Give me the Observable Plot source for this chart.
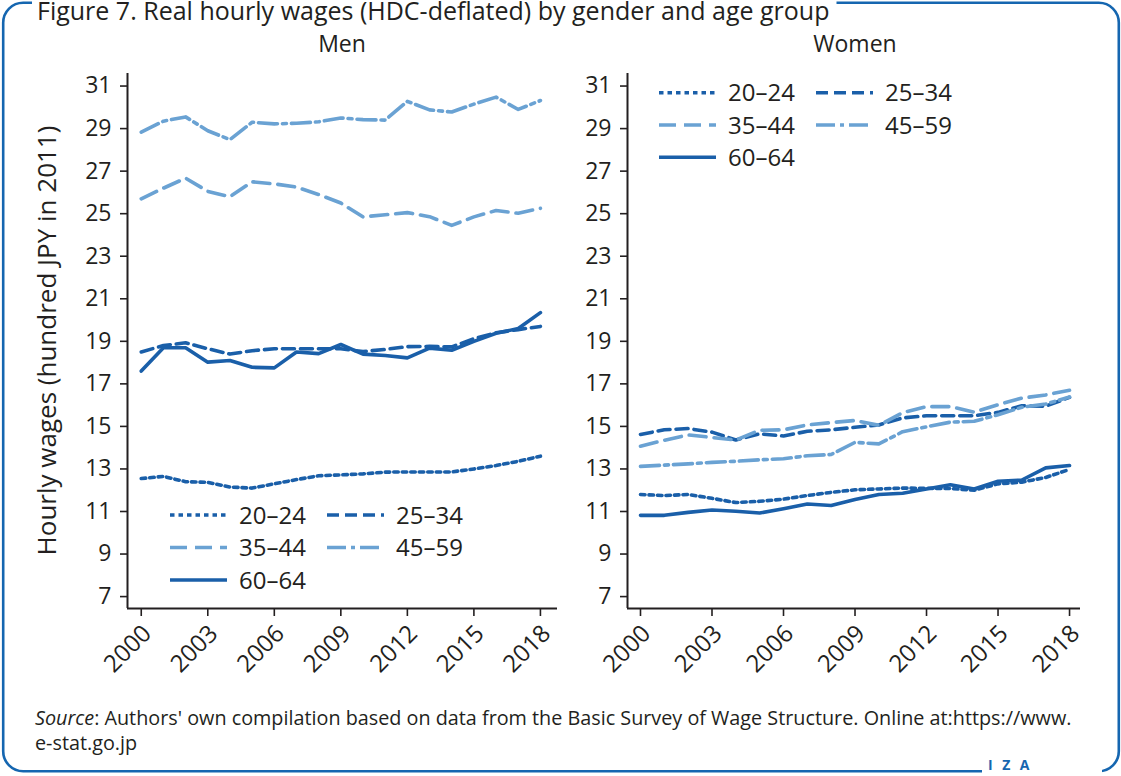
<!DOCTYPE html>
<html>
<head>
<meta charset="utf-8">
<script src="https://cdn.jsdelivr.net/npm/d3@7"></script>
<script src="https://cdn.jsdelivr.net/npm/@observablehq/plot@0.6"></script>
<style>
  body { margin: 0; background: #fff; }
  #root { position: relative; width: 1121px; height: 776px; overflow: hidden; background: #fff;
          font-family: "Open Sans", "Liberation Sans", Arial, sans-serif; color: #231f20; }
  .panel { position: absolute; top: 0; }
  #overlay { position: absolute; left: 0; top: 0; pointer-events: none; }
</style>
</head>
<body>
<div id="root">
  <div id="men" class="panel" style="left:0px"></div>
  <div id="women" class="panel" style="left:500px"></div>
  <svg id="overlay" width="1121" height="776"></svg>
</div>
<script>
// ---------------- data ----------------
const years = [2000, 2001, 2002, 2003, 2004, 2005, 2006, 2007, 2008, 2009,
               2010, 2011, 2012, 2013, 2014, 2015, 2016, 2017, 2018];
const ageGroups = ["20–24", "25–34", "35–44", "45–59", "60–64"];

const men20_24 = [12.55, 12.65, 12.40, 12.37, 12.15, 12.10, 12.30, 12.50, 12.68, 12.72, 12.77, 12.85, 12.86, 12.86, 12.86, 13.00, 13.16, 13.36, 13.60];
const men25_34 = [18.50, 18.80, 18.93, 18.65, 18.40, 18.56, 18.65, 18.65, 18.65, 18.65, 18.52, 18.62, 18.75, 18.76, 18.74, 19.12, 19.40, 19.55, 19.70];
const men35_44 = [25.70, 26.20, 26.67, 26.05, 25.80, 26.50, 26.40, 26.25, 25.90, 25.50, 24.85, 24.95, 25.05, 24.86, 24.45, 24.85, 25.15, 25.02, 25.25];
const men45_59 = [28.83, 29.35, 29.55, 28.90, 28.48, 29.30, 29.22, 29.25, 29.32, 29.50, 29.42, 29.40, 30.28, 29.88, 29.78, 30.15, 30.48, 29.90, 30.32];
const men60_64 = [17.60, 18.70, 18.70, 18.02, 18.10, 17.78, 17.75, 18.50, 18.42, 18.85, 18.40, 18.33, 18.22, 18.68, 18.58, 19.00, 19.38, 19.60, 20.35];

const women20_24 = [11.80, 11.75, 11.80, 11.62, 11.42, 11.48, 11.58, 11.75, 11.90, 12.02, 12.06, 12.10, 12.09, 12.08, 12.00, 12.30, 12.38, 12.60, 12.98];
const women25_34 = [14.62, 14.84, 14.90, 14.73, 14.36, 14.65, 14.55, 14.77, 14.84, 14.96, 15.07, 15.40, 15.50, 15.50, 15.50, 15.66, 15.97, 15.95, 16.37];
const women35_44 = [14.07, 14.35, 14.60, 14.48, 14.36, 14.82, 14.84, 15.07, 15.18, 15.28, 15.05, 15.65, 15.93, 15.93, 15.67, 16.02, 16.33, 16.48, 16.70];
const women45_59 = [13.12, 13.18, 13.24, 13.31, 13.36, 13.43, 13.48, 13.62, 13.68, 14.25, 14.18, 14.75, 14.98, 15.20, 15.24, 15.55, 15.90, 16.05, 16.38];
const women60_64 = [10.82, 10.82, 10.96, 11.07, 11.01, 10.93, 11.13, 11.35, 11.28, 11.56, 11.80, 11.86, 12.06, 12.26, 12.06, 12.42, 12.48, 13.05, 13.16];

const xTicks = [2000, 2003, 2006, 2009, 2012, 2015, 2018];
const yTicks = [7, 9, 11, 13, 15, 17, 19, 21, 23, 25, 27, 29, 31];

const titleText = "Figure 7. Real hourly wages (HDC-deflated) by gender and age group";
const panelTitles = ["Men", "Women"];
const yLabel = "Hourly wages (hundred JPY in 2011)";
const sourceLine1 = ": Authors' own compilation based on data from the Basic Survey of Wage Structure. Online at:https://www.";
const sourceLine2 = "e-stat.go.jp";

// ---------------- styles ----------------
const dark = "#1a5fa9";
const light = "#6aa2d3";
const ink = "#231f20";
const frameBlue = "#1566b0";
const seriesColor = [dark, dark, light, light, dark];
const seriesDash = ["4.5,4", "12,6", "17,8", "19,5,4,5", null];
const FONT = '"Open Sans", "Liberation Sans", Arial, sans-serif';

function toRows(seriesList) {
  const rows = [];
  seriesList.forEach((vals, i) => {
    vals.forEach((v, j) => rows.push({ year: years[j], value: v, age: ageGroups[i] }));
  });
  return rows;
}

const yDomain = [6.44, 31.59];

function panel(seriesList, xDomain, width) {
  const rows = toRows(seriesList);
  return Plot.plot({
    width: width,
    height: 710,
    marginLeft: 127,
    marginRight: 10,
    marginTop: 73,
    marginBottom: 102,
    style: { background: "transparent", overflow: "visible", fontFamily: FONT, fontSize: "23px", color: ink },
    x: { domain: xDomain, label: null },
    y: { domain: yDomain, label: null },
    marks: [
      Plot.ruleX([xDomain[0]], { stroke: ink, strokeWidth: 2 }),
      Plot.ruleY([yDomain[0]], { stroke: ink, strokeWidth: 2 }),
      Plot.axisY({ ticks: yTicks, tickSize: 7, tickPadding: 9, strokeWidth: 1.6, label: null, fontSize: 23 }),
      // tick marks
      Plot.axisX({ ticks: xTicks, tickFormat: () => "", tickSize: 8, strokeWidth: 1.6, label: null }),
      // rotated tick labels
      Plot.axisX({ ticks: xTicks, tickFormat: d => String(d), tickRotate: -45, tickSize: 0, tickPadding: 21,
                   dx: 6, label: null, fontSize: 24 }),
      ...ageGroups.map((a, i) =>
        Plot.line(rows.filter(d => d.age === a), {
          x: "year", y: "value", stroke: seriesColor[i], strokeWidth: 3.6,
          strokeDasharray: seriesDash[i], strokeLinejoin: "round"
        }))
    ]
  });
}

document.getElementById("men").appendChild(
  panel([men20_24, men25_34, men35_44, men45_59, men60_64], [1999.38, 2018.77], 567));
document.getElementById("women").appendChild(
  panel([women20_24, women25_34, women35_44, women45_59, women60_64], [1999.455, 2018.46], 590));

// ---------------- overlay: frame, titles, legends, caption ----------------
const svg = d3.select("#overlay");
svg.append("rect").attr("x", 3.2).attr("y", 2.8).attr("width", 1115.6).attr("height", 768.4)
  .attr("rx", 20).attr("fill", "none").attr("stroke", frameBlue).attr("stroke-width", 2.6);

const title = svg.append("text").attr("x", 37).attr("y", 20).attr("font-family", FONT)
  .attr("font-size", 25).attr("fill", ink).text(titleText);
const tw = title.node().getComputedTextLength();
svg.insert("rect", "text").attr("x", 32).attr("y", 0).attr("width", tw + 12).attr("height", 8).attr("fill", "#fff");

// IZA mark on the bottom border
svg.append("rect").attr("x", 982).attr("y", 765).attr("width", 120).attr("height", 10).attr("fill", "#fff");
svg.append("text").attr("x", 988).attr("y", 770).attr("font-family", FONT).attr("font-size", 14)
  .attr("font-weight", "bold").attr("letter-spacing", 9.5).attr("fill", frameBlue).text("IZA");

// panel titles
[[342, panelTitles[0]], [855, panelTitles[1]]].forEach(([x, t]) => {
  svg.append("text").attr("x", x).attr("y", 52).attr("text-anchor", "middle").attr("font-family", FONT)
    .attr("font-size", 23).attr("fill", ink).text(t);
});

// y label
svg.append("text").attr("transform", "translate(56,340.5) rotate(-90)").attr("text-anchor", "middle")
  .attr("font-family", FONT).attr("font-size", 26).attr("fill", ink).text(yLabel);

// legends
function legend(x0, colText0, x1, colText1, rowsY) {
  ageGroups.forEach((a, i) => {
    const col = i % 2, row = Math.floor(i / 2);
    const lx = col === 0 ? x0 : x1;
    const tx = col === 0 ? colText0 : colText1;
    const y = rowsY[row];
    svg.append("line").attr("x1", lx).attr("x2", lx + 57).attr("y1", y).attr("y2", y)
      .attr("stroke", seriesColor[i]).attr("stroke-width", 3.6)
      .attr("stroke-dasharray", seriesDash[i]);
    svg.append("text").attr("x", tx).attr("y", y + 8.5).attr("font-family", FONT)
      .attr("font-size", 24).attr("fill", ink).text(a);
  });
}
legend(170, 239, 327, 396, [515, 547.5, 580]);
legend(659, 728, 816, 885, [92.7, 125, 157.3]);

// caption
const cap = svg.append("text").attr("x", 35).attr("y", 725).attr("font-family", FONT)
  .attr("font-size", 19.8).attr("fill", ink);
cap.append("tspan").attr("font-style", "italic").text("Source");
cap.append("tspan").text(sourceLine1);
svg.append("text").attr("x", 35).attr("y", 750).attr("font-family", FONT)
  .attr("font-size", 19.8).attr("fill", ink).text(sourceLine2);
</script>
</body>
</html>
